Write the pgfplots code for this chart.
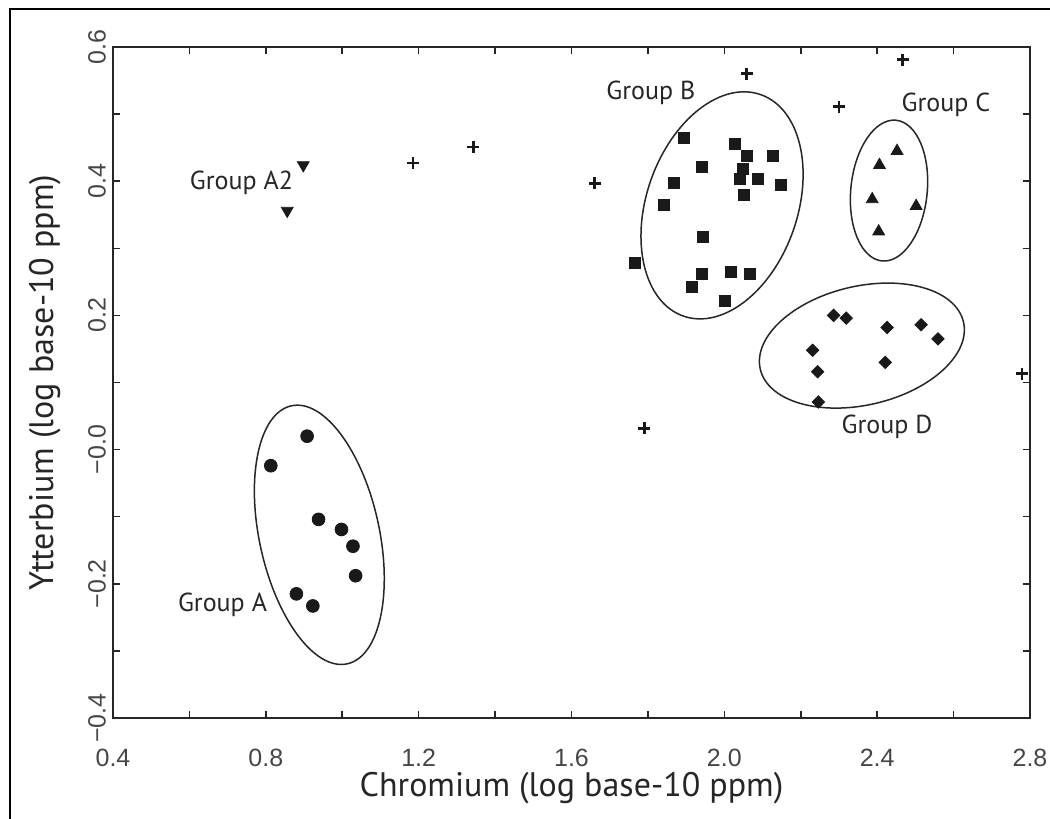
\documentclass[border=0pt]{standalone}
\usepackage{fontspec}
\setmainfont{PT Sans}
\newfontfamily\tickfont{Liberation Sans}
\usepackage{pgfplots}
\pgfplotsset{compat=1.18}
\definecolor{ink}{RGB}{25,25,25}
\definecolor{ticktext}{RGB}{70,70,70}

\begin{document}
\begin{tikzpicture}
\path[use as bounding box] (0,0) rectangle (525pt,409.5pt);
\draw[line width=1.3pt] (5pt,0) -- (5pt,405pt) -- (525pt,405pt);
\begin{axis}[
  at={(56.5pt,50.5pt)}, anchor=south west,
  scale only axis, width=458.5pt, height=335.5pt,
  xmin=0.4, xmax=2.8, ymin=-0.4, ymax=0.6,
  xtick={0.4,0.8,1.2,1.6,2.0,2.4,2.8},
  xticklabels={0.4,0.8,1.2,1.6,2.0,2.4,2.8},
  minor xtick={0.6,1.0,1.4,1.8,2.2,2.6},
  ytick={-0.4,-0.2,0,0.2,0.4,0.6},
  yticklabels={−0.4,−0.2,−0.0,0.2,0.4,0.6},
  minor ytick={-0.3,-0.1,0.1,0.3,0.5},
  tick align=inside, tick pos=both,
  major tick length=3.5pt, minor tick length=3.5pt,
  every tick/.style={line width=0.8pt, black!85},
  axis line style={line width=0.9pt, black!85},
  every tick label/.append style={font=\tickfont\fontsize{12.5}{14}\selectfont, text=ticktext},
  xticklabel shift=12pt,
  yticklabel style={rotate=90, anchor=south},
  xlabel={Chromium (log base-10 ppm)},
  ylabel={Ytterbium (log base-10 ppm)},
  every axis label/.append style={font=\fontsize{17}{20}\selectfont, text=black!85},
  xlabel style={at={(axis description cs:0.5,-0.104)}, anchor=center},
  ylabel style={at={(axis description cs:-0.074,0.5)}, anchor=center},
  clip=false,
]
% Group A
\addplot[only marks, mark=*, mark size=3.2pt, ink] coordinates {
  (0.908,0.020) (0.813,-0.024) (0.938,-0.104) (0.998,-0.119)
  (1.028,-0.144) (1.035,-0.188) (0.880,-0.215) (0.923,-0.233)};
% Group A2
\addplot[only marks, mark=triangle*, mark size=3.4pt, ink,
  mark options={rotate=180}] coordinates {
  (0.898,0.424) (0.856,0.356)};
% Group B
\addplot[only marks, mark=square*, mark size=2.75pt, ink] coordinates {
  (1.893,0.465) (2.027,0.455) (2.058,0.438) (2.126,0.438) (1.940,0.421)
  (2.048,0.418) (2.041,0.404) (2.089,0.404) (1.869,0.398) (2.148,0.394)
  (2.050,0.380) (1.842,0.364) (1.943,0.317) (1.766,0.278) (1.940,0.262)
  (2.017,0.265) (2.068,0.262) (1.916,0.243) (2.002,0.221)};
% Group C
\addplot[only marks, mark=triangle*, mark size=3.4pt, ink] coordinates {
  (2.452,0.445) (2.406,0.424) (2.387,0.373) (2.502,0.363) (2.404,0.325)};
% Group D
\addplot[only marks, mark=square*, mark size=2.2pt, ink,
  mark options={rotate=45}] coordinates {
  (2.286,0.200) (2.319,0.196) (2.426,0.182) (2.515,0.186) (2.559,0.165)
  (2.231,0.148) (2.421,0.130) (2.244,0.116) (2.246,0.071)};
% ungrouped
\addplot[only marks, mark=+, mark size=3pt, ink, line width=1.4pt] coordinates {
  (1.185,0.427) (1.343,0.451) (1.661,0.397) (1.790,0.032) (2.059,0.560)
  (2.300,0.511) (2.467,0.581) (2.779,0.113)};

% group outlines
\draw[line width=0.75pt, black!85] (axis cs:0.940,-0.127) ellipse [x radius=30pt, y radius=66pt, rotate=12.2];
\draw[line width=0.75pt, black!85] (axis cs:1.994,0.364) ellipse [x radius=37.75pt, y radius=58.65pt, rotate=-19.2];
\draw[line width=0.75pt, black!85] (axis cs:2.431,0.386) ellipse [x radius=19.1pt, y radius=35.35pt, rotate=-5.7];
\draw[line width=0.75pt, black!85] (axis cs:2.360,0.155) ellipse [x radius=52.15pt, y radius=29.7pt, rotate=13.1];

\node[anchor=east, inner sep=0pt, text=black!85, font=\fontsize{13}{15}\selectfont] at (axis cs:0.872,0.397) {Group A2};
\node[anchor=east, inner sep=0pt, text=black!85, font=\fontsize{13}{15}\selectfont] at (axis cs:0.804,-0.232) {Group A};
\node[anchor=east, inner sep=0pt, text=black!85, font=\fontsize{13}{15}\selectfont] at (axis cs:1.925,0.531) {Group B};
\node[anchor=west, inner sep=0pt, text=black!85, font=\fontsize{13}{15}\selectfont] at (axis cs:2.463,0.514) {Group C};
\node[anchor=west, inner sep=0pt, text=black!85, font=\fontsize{13}{15}\selectfont] at (axis cs:2.306,0.034) {Group D};
\end{axis}
\end{tikzpicture}
\end{document}
